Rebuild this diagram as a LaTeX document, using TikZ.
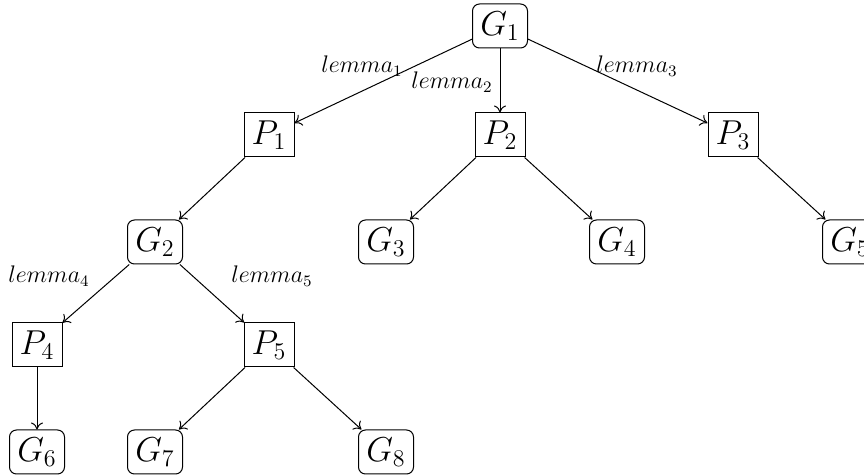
\documentclass[tikz,border=0pt]{standalone}
\usetikzlibrary{arrows.meta}
\begin{document}
\begin{tikzpicture}[x=0.5pt,y=-0.5pt,
  nodefont/.style={font=\fontsize{16.5}{20}\selectfont},
  goal/.style={draw, rounded corners=3.5pt, minimum width=27.5pt, minimum height=22pt, inner sep=1.5pt, nodefont, line width=0.5pt},
  proof/.style={draw, minimum width=25pt, minimum height=22pt, inner sep=1.5pt, nodefont, line width=0.5pt},
  lab/.style={font=\large, inner sep=0pt},
  conn/.style={-{To[length=3.5pt,width=6pt]}, line width=0.5pt}
]
\useasboundingbox (0,0) rectangle (864,476);
% nodes
\node[goal]  (G1) at (500,26)  {$G_1$};
\node[proof] (P1) at (269,135) {$P_1$};
\node[proof] (P2) at (500,135) {$P_2$};
\node[proof] (P3) at (733,135) {$P_3$};
\node[goal]  (G2) at (155,242) {$G_2$};
\node[goal]  (G3) at (386,242) {$G_3$};
\node[goal]  (G4) at (617,242) {$G_4$};
\node[goal]  (G5) at (850,242) {$G_5$};
\node[proof] (P4) at (37,345)  {$P_4$};
\node[proof] (P5) at (269,345) {$P_5$};
\node[goal]  (G6) at (37,452)  {$G_6$};
\node[goal]  (G7) at (155,452) {$G_7$};
\node[goal]  (G8) at (386,452) {$G_8$};
% labels
\node[lab] (L1) at (362,66) {$lemma_1$};
\node[lab] (L2) at (452,82) {$lemma_2$};
\node[lab] (L3) at (637,66) {$lemma_3$};
\node[lab] (L4) at (49,276) {$lemma_4$};
\node[lab] (L5) at (272,276) {$lemma_5$};
% connectors
\draw[conn] (G1) -- (P1);
\draw[conn] (G1) -- (P2);
\draw[conn] (G1) -- (P3);
\draw[conn] (P1) -- (G2);
\draw[conn] (P2) -- (G3);
\draw[conn] (P2) -- (G4);
\draw[conn] (P3) -- (G5);
\draw[conn] (G2) -- (P4);
\draw[conn] (G2) -- (P5);
\draw[conn] (P4) -- (G6);
\draw[conn] (P5) -- (G7);
\draw[conn] (P5) -- (G8);
\end{tikzpicture}
\end{document}
